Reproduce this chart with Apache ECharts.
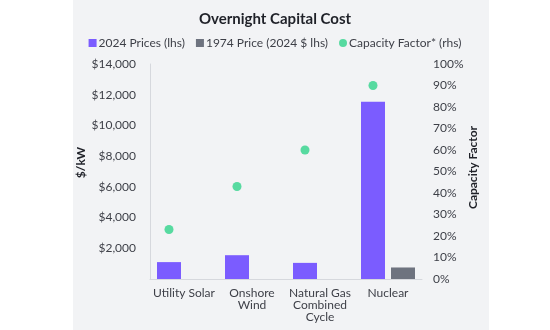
<!DOCTYPE html>
<html>
<head>
<meta charset="utf-8">
<script src="https://cdn.jsdelivr.net/npm/echarts@6/dist/echarts.min.js"></script>
<style>
  html, body { margin: 0; padding: 0; background: #ffffff; }
  #chart { width: 550px; height: 330px; }
</style>
</head>
<body>
<div id="chart"></div>
<script>
// Technology categories on the x axis
const categories = ['Utility Solar', 'Onshore\nWind', 'Natural Gas\nCombined\nCycle', 'Nuclear'];
// Overnight capital cost, $/kW
const prices2024 = [1100, 1550, 1050, 11550];
const price1974 = [null, null, null, 750];
// Capacity factor, percent
const capacityFactor = [23, 43, 60, 90];

const FONT = 'Lato, "Noto Sans", sans-serif';
const TEXT = '#3d3f47';

const chart = echarts.init(document.getElementById('chart'), null, { renderer: 'canvas' });

chart.setOption({
  backgroundColor: 'transparent',
  textStyle: { fontFamily: FONT },
  graphic: [{
    type: 'rect',
    left: 73, top: 0,
    shape: { width: 416, height: 330 },
    style: { fill: '#f2f3f5' },
    z: -10, silent: true
  }],
  title: {
    text: 'Overnight Capital Cost',
    left: 'center', top: 7,
    textStyle: { fontFamily: FONT, fontSize: 15, fontWeight: 'bold', color: '#1f2128' }
  },
  legend: {
    top: 32, left: 'center',
    itemWidth: 8, itemHeight: 8, itemGap: 11,
    textStyle: { fontFamily: FONT, fontSize: 12, color: TEXT, padding: [0, 0, 0, -3] },
    data: [
      { name: '2024 Prices (lhs)', icon: 'rect' },
      { name: '1974 Price (2024 $ lhs)', icon: 'rect' },
      { name: 'Capacity Factor* (rhs)', icon: 'circle' }
    ]
  },
  grid: { left: 150, right: 128, top: 64, bottom: 51, containLabel: false },
  xAxis: {
    type: 'category',
    data: categories,
    axisLine: { lineStyle: { color: '#d6d8dd', width: 1 } },
    axisTick: { show: false },
    axisLabel: { fontFamily: FONT, fontSize: 12, color: TEXT, lineHeight: 12, margin: 8, interval: 0 }
  },
  yAxis: [{
    type: 'value',
    min: 0, max: 14000, interval: 2000,
    name: '$/kW', nameLocation: 'middle', nameGap: 60, nameRotate: 90,
    nameTextStyle: { fontFamily: FONT, fontSize: 12, fontWeight: 'bold', color: '#1f2128', padding: [0, 0, 0, 18] },
    axisLine: { show: true, lineStyle: { color: '#d6d8dd' } },
    axisTick: { show: false },
    splitLine: { show: false },
    axisLabel: {
      fontFamily: FONT, fontSize: 12, color: TEXT, margin: 14, showMinLabel: false,
      formatter: v => '$' + v.toLocaleString('en-US')
    }
  }, {
    type: 'value',
    min: 0, max: 100, interval: 10,
    name: 'Capacity Factor', nameLocation: 'middle', nameGap: 44, nameRotate: 90,
    nameTextStyle: { fontFamily: FONT, fontSize: 12, fontWeight: 'bold', color: '#1f2128', padding: [0, 0, 0, 8] },
    axisLine: { show: false },
    axisTick: { show: false },
    splitLine: { show: false },
    axisLabel: { fontFamily: FONT, fontSize: 12, color: TEXT, margin: 11, formatter: '{value}%' }
  }],
  series: [{
    name: '2024 Prices (lhs)',
    type: 'bar',
    data: prices2024,
    barWidth: 24, barGap: '25%',
    itemStyle: { color: '#7b5cff' }
  }, {
    name: '1974 Price (2024 $ lhs)',
    type: 'bar',
    data: price1974,
    barWidth: 24,
    itemStyle: { color: '#6e737f' }
  }, {
    name: 'Capacity Factor* (rhs)',
    type: 'scatter',
    yAxisIndex: 1,
    data: capacityFactor,
    symbolSize: 9,
    symbolOffset: [-15, 0],
    itemStyle: { color: '#2fd38b' },
    z: 5
  }]
});
</script>
</body>
</html>
